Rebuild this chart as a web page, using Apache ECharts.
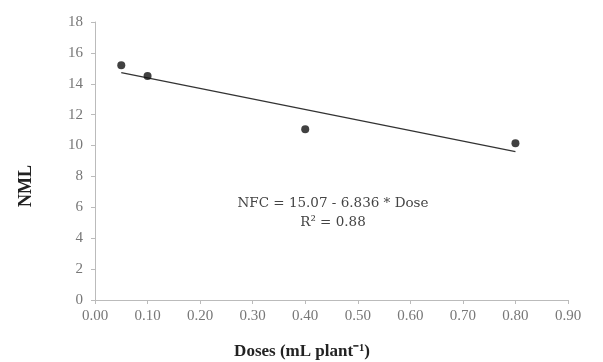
<!DOCTYPE html>
<html><head><meta charset="utf-8">
<script src="https://cdn.jsdelivr.net/npm/echarts@6/dist/echarts.min.js"></script>
<style>html,body{margin:0;padding:0;background:#fff}#c{width:603px;height:362px}</style>
</head><body><div id="c"></div>
<script>
const doses = [0.05, 0.10, 0.40, 0.80];
const nml = [15.2, 14.5, 11.05, 10.15];
const intercept = 15.07, slope = -6.836;
const fitX = [0.05, 0.80];
const eqText = 'NFC = 15.07 - 6.836 * Dose';
const r2Text = 'R² = 0.88';
const xTitle = 'Doses (mL plant⁻¹)';
const yTitle = 'NML';

const font = 'Liberation Serif';
const chart = echarts.init(document.getElementById('c'));
chart.setOption({
  animation:false,
  grid:{left:95,right:35,top:22,bottom:62},
  xAxis:{type:'value',min:0,max:0.9,interval:0.1,
    axisLine:{lineStyle:{color:'#bbb'}},axisTick:{show:true,length:4,lineStyle:{color:'#bbb'}},
    splitLine:{show:false},
    axisLabel:{fontFamily:font,fontSize:15,color:'#777',margin:9,formatter:v=>v.toFixed(2)}},
  yAxis:{type:'value',min:0,max:18,interval:2,
    axisLine:{show:true,lineStyle:{color:'#bbb'}},axisTick:{show:true,length:4,lineStyle:{color:'#bbb'}},
    splitLine:{show:false},
    axisLabel:{fontFamily:font,fontSize:15,color:'#777',margin:12}},
  series:[
    {type:'line',data:fitX.map(x=>[x,intercept+slope*x]),symbol:'none',
     lineStyle:{color:'#333',width:1.3},z:1},
    {type:'scatter',data:doses.map((d,i)=>[d,nml[i]]),symbol:'circle',symbolSize:8,
     itemStyle:{color:'#111'},z:2}
  ],
  graphic:[
    {type:'text',x:333,y:194,style:{text:eqText+'\n'+r2Text,font:'13.5px "DejaVu Serif"',fill:'#444',align:'center',lineHeight:19}},
    {type:'text',x:302,y:343,style:{text:xTitle,font:'bold 17px "Liberation Serif"',fill:'#222',align:'center'}},
    {type:'text',x:26,y:186,rotation:Math.PI/2,style:{text:yTitle,font:'bold 18px "Liberation Serif"',fill:'#222',align:'center',verticalAlign:'middle'}}
  ]
});
</script></body></html>
